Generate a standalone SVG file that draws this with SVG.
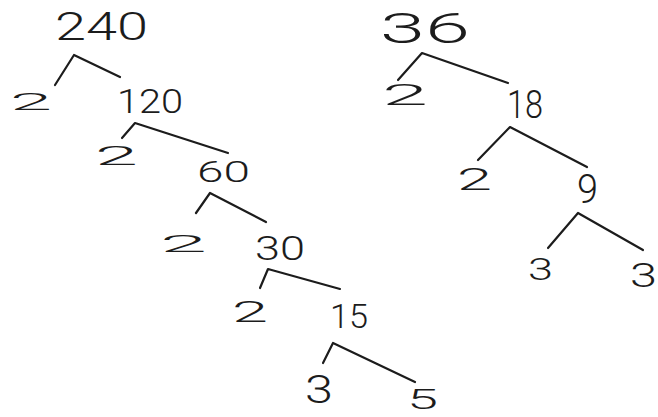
<svg xmlns="http://www.w3.org/2000/svg" width="658" height="417" viewBox="0 0 658 417">
<style>
.n{font-family:"Roboto","Open Sans","Liberation Sans",sans-serif;fill:#1c1c1c;font-weight:300}
.c polyline{fill:none;stroke:#1c1c1c;stroke-width:2.2;stroke-linecap:round;stroke-linejoin:round}
</style>
<rect width="658" height="417" fill="#ffffff"/>
<g class="c" id="connectors">
<polyline points="55,85 74,55 120,77"/>
<polyline points="122,138 135,123 228,153"/>
<polyline points="196,213 210,193 266,222"/>
<polyline points="260,288 268,269 340,289"/>
<polyline points="323,363 333,343 415,382"/>
<polyline points="398,80 422,53 508,83"/>
<polyline points="478,160 510,127 587,167"/>
<polyline points="548,248 578,213 643,250"/>
</g>
<g id="n240"><text class="n" x="55" y="40" font-size="38" textLength="93" lengthAdjust="spacingAndGlyphs">240</text></g>
<g id="n2a"><text class="n" x="10" y="110" font-size="24" textLength="42" lengthAdjust="spacingAndGlyphs">2</text></g>
<g id="n120"><text class="n" x="117" y="113" font-size="34" textLength="66" lengthAdjust="spacingAndGlyphs">120</text></g>
<g id="n2b"><text class="n" x="95" y="165" font-size="25" textLength="43" lengthAdjust="spacingAndGlyphs">2</text></g>
<g id="n60"><text class="n" x="197" y="182" font-size="30" textLength="53" lengthAdjust="spacingAndGlyphs">60</text></g>
<g id="n2c"><text class="n" x="160" y="252" font-size="24" textLength="47" lengthAdjust="spacingAndGlyphs">2</text></g>
<g id="n30"><text class="n" x="255" y="260" font-size="34" textLength="50" lengthAdjust="spacingAndGlyphs">30</text></g>
<g id="n2d"><text class="n" x="232" y="322" font-size="30" textLength="36" lengthAdjust="spacingAndGlyphs">2</text></g>
<g id="n15"><text class="n" x="330" y="328" font-size="34" textLength="38" lengthAdjust="spacingAndGlyphs">15</text></g>
<g id="n3a"><text class="n" x="305" y="403" font-size="38" textLength="28" lengthAdjust="spacingAndGlyphs">3</text></g>
<g id="n5"><text class="n" x="407" y="409" font-size="28" textLength="31" lengthAdjust="spacingAndGlyphs">5</text></g>
<g id="n36"><text class="n" x="380" y="43" font-size="42" textLength="90" lengthAdjust="spacingAndGlyphs">36</text></g>
<g id="n2e"><text class="n" x="382" y="105" font-size="30" textLength="46" lengthAdjust="spacingAndGlyphs">2</text></g>
<g id="n18"><text class="n" x="507" y="118" font-size="38" textLength="36" lengthAdjust="spacingAndGlyphs">18</text></g>
<g id="n2f"><text class="n" x="457" y="190" font-size="31" textLength="35" lengthAdjust="spacingAndGlyphs">2</text></g>
<g id="n9"><text class="n" x="577" y="203" font-size="40" textLength="21" lengthAdjust="spacingAndGlyphs">9</text></g>
<g id="n3b"><text class="n" x="528" y="280" font-size="31" textLength="25" lengthAdjust="spacingAndGlyphs">3</text></g>
<g id="n3c"><text class="n" x="630" y="287" font-size="34" textLength="27" lengthAdjust="spacingAndGlyphs">3</text></g>
</svg>
